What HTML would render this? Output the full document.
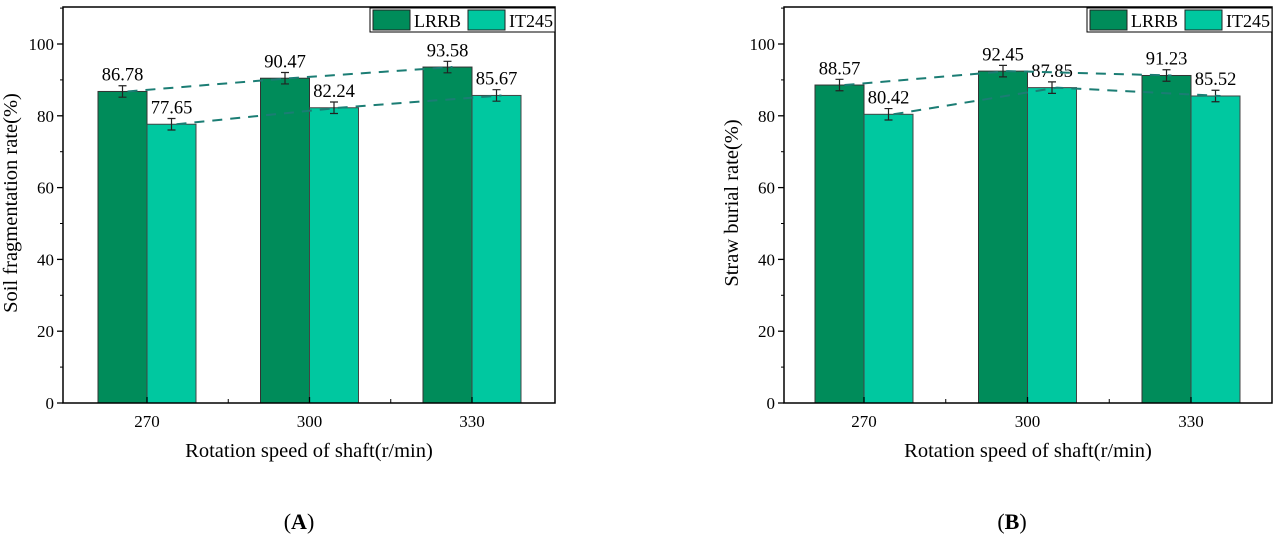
<!DOCTYPE html>
<html><head><meta charset="utf-8"><style>
html,body{margin:0;padding:0;background:#fff;}
svg{display:block;font-family:"Liberation Serif",serif;}
</style></head><body>
<svg id="s" width="1280" height="536" viewBox="0 0 1280 536" xmlns="http://www.w3.org/2000/svg"></svg>
<script>
const s=document.getElementById('s');let h='';
const Y=v=>403-v*3.59;
function chart(x0,x1,c1,sp,lr,it,ylab,tag,tagx){
  const bw=49;
  for(let v=0;v<=110;v+=10){const y=Y(v);
    if(v%20==0){h+=`<line x1="${x0-6}" y1="${y}" x2="${x0}" y2="${y}" stroke="#000" stroke-width="1.3"/>`;
      h+=`<text x="${x0-9}" y="${y+6}" font-size="17" text-anchor="end">${v}</text>`;}
    else h+=`<line x1="${x0-3}" y1="${y}" x2="${x0}" y2="${y}" stroke="#000" stroke-width="1"/>`;}
  const cats=['270','300','330'];
  for(let i=0;i<3;i++){const cx=c1+i*sp;
    const a=lr[i],b=it[i];
    h+=`<rect x="${cx-bw}" y="${Y(a)}" width="${bw}" height="${403-Y(a)}" fill="#008c5a" stroke="#333" stroke-width="1"/>`;
    h+=`<rect x="${cx}" y="${Y(b)}" width="${bw}" height="${403-Y(b)}" fill="#00c8a0" stroke="#444" stroke-width="1"/>`;
    for(const [xc,v] of [[cx-bw/2,a],[cx+bw/2,b]]){
      const e=1.6;h+=`<path d="M${xc-4} ${Y(v+e)}H${xc+4}M${xc} ${Y(v+e)}V${Y(v-e)}M${xc-4} ${Y(v-e)}H${xc+4}" stroke="#222" stroke-width="1.2" fill="none"/>`;
      h+=`<text x="${xc}" y="${Y(v+e)-5}" font-size="18.5" text-anchor="middle">${v.toFixed(2)}</text>`;}
    h+=`<line x1="${cx}" y1="403" x2="${cx}" y2="397" stroke="#000" stroke-width="1.3"/>`;
    h+=`<text x="${cx}" y="427" font-size="17" text-anchor="middle">${cats[i]}</text>`;
    if(i<2)h+=`<line x1="${cx+sp/2}" y1="403" x2="${cx+sp/2}" y2="399" stroke="#000"/>`;
  }
  let p1='',p2='';
  for(let i=0;i<3;i++){const cx=c1+i*sp;p1+=(i?'L':'M')+(cx-bw/2+5)+' '+Y(lr[i]);p2+=(i?'L':'M')+(cx+bw/2+5)+' '+Y(it[i]);}
  h+=`<path d="${p1}" stroke="#1b7d74" stroke-width="2" stroke-dasharray="10,8" fill="none"/>`;
  h+=`<path d="${p2}" stroke="#1b7d74" stroke-width="2" stroke-dasharray="10,8" fill="none"/>`;
  h+=`<rect x="${x0}" y="7" width="${x1-x0}" height="396" fill="none" stroke="#000" stroke-width="1.5"/>`;
  const lx=x1-185;
  h+=`<rect x="${lx}" y="8" width="185" height="24" fill="#fff" stroke="#000" stroke-width="1"/>`;
  h+=`<rect x="${lx+3}" y="10" width="37" height="20" fill="#008c5a" stroke="#222"/>`;
  h+=`<text x="${lx+44}" y="27" font-size="18">LRRB</text>`;
  h+=`<rect x="${lx+98}" y="10" width="37" height="20" fill="#00c8a0" stroke="#222"/>`;
  h+=`<text x="${lx+139}" y="27" font-size="18">IT245</text>`;
  h+=`<text x="${(x0+x1)/2}" y="457" font-size="20.5" text-anchor="middle">Rotation speed of shaft(r/min)</text>`;
  h+=`<text transform="translate(${x0-46},203) rotate(-90)" font-size="20.5" text-anchor="middle">${ylab}</text>`;
  h+=`<text x="${tagx}" y="529" font-size="22" text-anchor="middle">(<tspan font-weight="bold">${tag}</tspan>)</text>`;
}
chart(63,555,147,162.5,[86.78,90.47,93.58],[77.65,82.24,85.67],'Soil fragmentation rate(%)','A',299);
chart(784,1272,864,163.5,[88.57,92.45,91.23],[80.42,87.85,85.52],'Straw burial rate(%)','B',1012);
s.innerHTML=h;
</script>
</body></html>
